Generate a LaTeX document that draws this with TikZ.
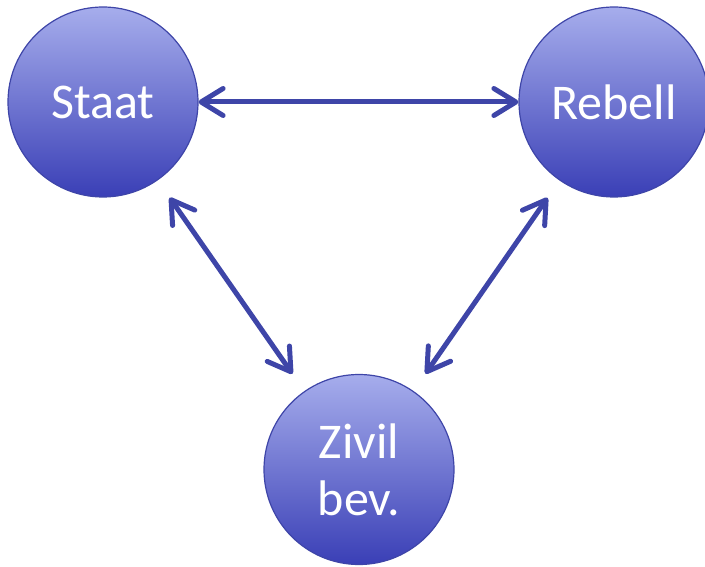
\documentclass[tikz,border=0pt]{standalone}
\usepackage{fontspec}
\setmainfont{Carlito}
\usetikzlibrary{arrows.meta}
\definecolor{edgeblue}{HTML}{3E45A8}
\definecolor{topblue}{HTML}{A6ADEC}
\definecolor{botblue}{HTML}{3A3FB6}
\tikzset{
  actor/.style={circle, minimum size=190pt, inner sep=0pt, draw=edgeblue, line width=1.2pt,
    top color=topblue, bottom color=botblue, text=white, font=\fontsize{50}{57}\selectfont, align=center},
  link/.style={draw=edgeblue, line width=5pt, line cap=round,
    {Straight Barb[length=22pt, width=27pt, round]}-{Straight Barb[length=22pt, width=27pt, round]}}
}
\begin{document}
\begin{tikzpicture}[x=1pt, y=-1pt]
\useasboundingbox (0,0) rectangle (705,567);
\node[actor] (staat) at (103,102) {Staat};
\node[actor] (rebell) at (614,102) {Rebell};
\node[actor] (zivil) at (359,469.5) {Zivil\\bev.};
\draw[link] (staat) -- (rebell);
\draw[link, shorten <=21pt, shorten >=21pt] (staat) -- (zivil);
\draw[link, shorten <=21pt, shorten >=21pt] (rebell) -- (zivil);
\end{tikzpicture}
\end{document}
